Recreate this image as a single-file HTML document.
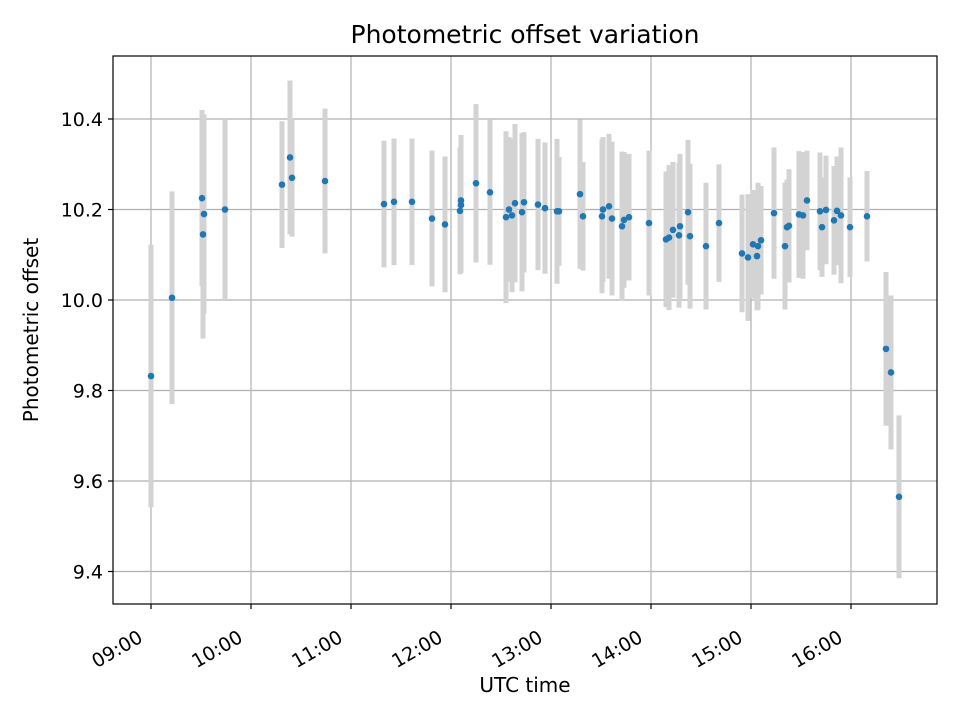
<!DOCTYPE html>
<html><head><meta charset="utf-8"><style>
html,body{margin:0;padding:0;background:#fff;}
svg{display:block;font-family:"DejaVu Sans","Liberation Sans",sans-serif;}
</style></head><body>
<svg id="chart" width="960" height="720" viewBox="0 0 960 720" xmlns="http://www.w3.org/2000/svg">
<rect x="0" y="0" width="960" height="720" fill="#fff"/>
<g id="grid"></g>
<g id="errs"></g>
<g id="pts"></g>
<rect x="113" y="56" width="824" height="548" fill="none" stroke="#000" stroke-width="1.2"/>
<g id="xticks"></g>
<g id="yticks"></g>
<text x="525" y="43" text-anchor="middle" font-size="25">Photometric offset variation</text>
<text x="525" y="692" text-anchor="middle" font-size="20">UTC time</text>
<text x="0" y="0" transform="translate(38,330) rotate(-90)" text-anchor="middle" font-size="20">Photometric offset</text>
</svg>
<script>
const times = [9.00,9.21,9.51,9.52,9.53,9.74,10.31,10.39,10.41,10.74,11.33,11.43,11.61,11.81,11.94,12.09,12.10,12.10,12.25,12.39,12.55,12.58,12.61,12.64,12.71,12.73,12.87,12.94,13.06,13.08,13.29,13.32,13.51,13.52,13.58,13.61,13.71,13.73,13.78,13.98,14.15,14.18,14.22,14.28,14.29,14.37,14.39,14.55,14.68,14.91,14.97,15.02,15.06,15.07,15.10,15.23,15.34,15.36,15.38,15.48,15.52,15.56,15.69,15.71,15.75,15.83,15.86,15.90,15.99,16.16,16.35,16.40,16.48];
const offsets = [9.832,10.005,10.225,10.145,10.19,10.2,10.255,10.315,10.27,10.263,10.212,10.217,10.217,10.18,10.167,10.197,10.21,10.22,10.258,10.238,10.183,10.2,10.187,10.214,10.194,10.216,10.211,10.203,10.196,10.196,10.234,10.185,10.185,10.2,10.207,10.18,10.163,10.177,10.183,10.17,10.134,10.138,10.155,10.143,10.163,10.194,10.141,10.119,10.17,10.103,10.094,10.123,10.097,10.119,10.132,10.192,10.119,10.161,10.164,10.189,10.187,10.22,10.196,10.161,10.199,10.176,10.197,10.187,10.161,10.185,9.892,9.84,9.565];
const errors = [0.29,0.235,0.195,0.23,0.22,0.2,0.14,0.17,0.13,0.16,0.14,0.14,0.14,0.15,0.15,0.14,0.15,0.145,0.175,0.16,0.19,0.16,0.17,0.175,0.175,0.155,0.145,0.145,0.16,0.12,0.165,0.12,0.17,0.16,0.16,0.17,0.165,0.15,0.14,0.16,0.15,0.16,0.15,0.16,0.16,0.16,0.16,0.14,0.13,0.13,0.14,0.12,0.12,0.14,0.12,0.145,0.14,0.105,0.125,0.14,0.14,0.11,0.13,0.11,0.12,0.12,0.12,0.15,0.11,0.1,0.17,0.17,0.18];
const xTickVals = [9,10,11,12,13,14,15,16];
const xTickLabels = ["09:00","10:00","11:00","12:00","13:00","14:00","15:00","16:00"];
const yTickVals = [9.4,9.6,9.8,10.0,10.2,10.4];
const yTickLabels = ["9.4","9.6","9.8","10.0","10.2","10.4"];

const NS = "http://www.w3.org/2000/svg";
const L=113,R=937,T=56,B=604;
function xs(h){ return 151 + (h-9)*100; }
function ys(v){ return 300 - (v-10.0)*452.5; }
function mk(tag, attrs, parent){ const e=document.createElementNS(NS,tag); for(const k in attrs) e.setAttribute(k,attrs[k]); parent.appendChild(e); return e; }
const grid=document.getElementById('grid'), errs=document.getElementById('errs'), pts=document.getElementById('pts');
const xt=document.getElementById('xticks'), yt=document.getElementById('yticks');

xTickVals.forEach((v,i)=>{
  const x=xs(v);
  const g=mk('line',{x1:x,x2:x,y1:T,y2:B,stroke:'#b0b0b0','stroke-width':1.2},grid);
  
  
  const t=mk('line',{x1:x,x2:x,y1:B,y2:B+5,stroke:'#000','stroke-width':1.2},xt);
  
  
  const tx=mk('text',{x:0,y:0,'text-anchor':'end','font-size':19,transform:`translate(${x-7},641) rotate(-30)`},xt);
  tx.textContent=xTickLabels[i];
  
  
});
yTickVals.forEach((v,i)=>{
  const y=ys(v);
  const g=mk('line',{x1:L,x2:R,y1:y,y2:y,stroke:'#b0b0b0','stroke-width':1.2},grid);
  
  
  const t=mk('line',{x1:L-5,x2:L,y1:y,y2:y,stroke:'#000','stroke-width':1.2},yt);
  
  
  const tx=mk('text',{x:L-10,y:y+7,'text-anchor':'end','font-size':19},yt);
  tx.textContent=yTickLabels[i];
  
  
});
times.forEach((h,i)=>{
  const x=xs(h);
  const e=mk('line',{x1:x,x2:x,y1:ys(offsets[i]+errors[i]),y2:ys(offsets[i]-errors[i]),stroke:'#d3d3d3','stroke-width':5},errs);
  
  
});
times.forEach((h,i)=>{
  const c=mk('circle',{cx:xs(h),cy:ys(offsets[i]),r:3.3,fill:'#1f77b4'},pts);
  
  
});
</script>
</body></html>
